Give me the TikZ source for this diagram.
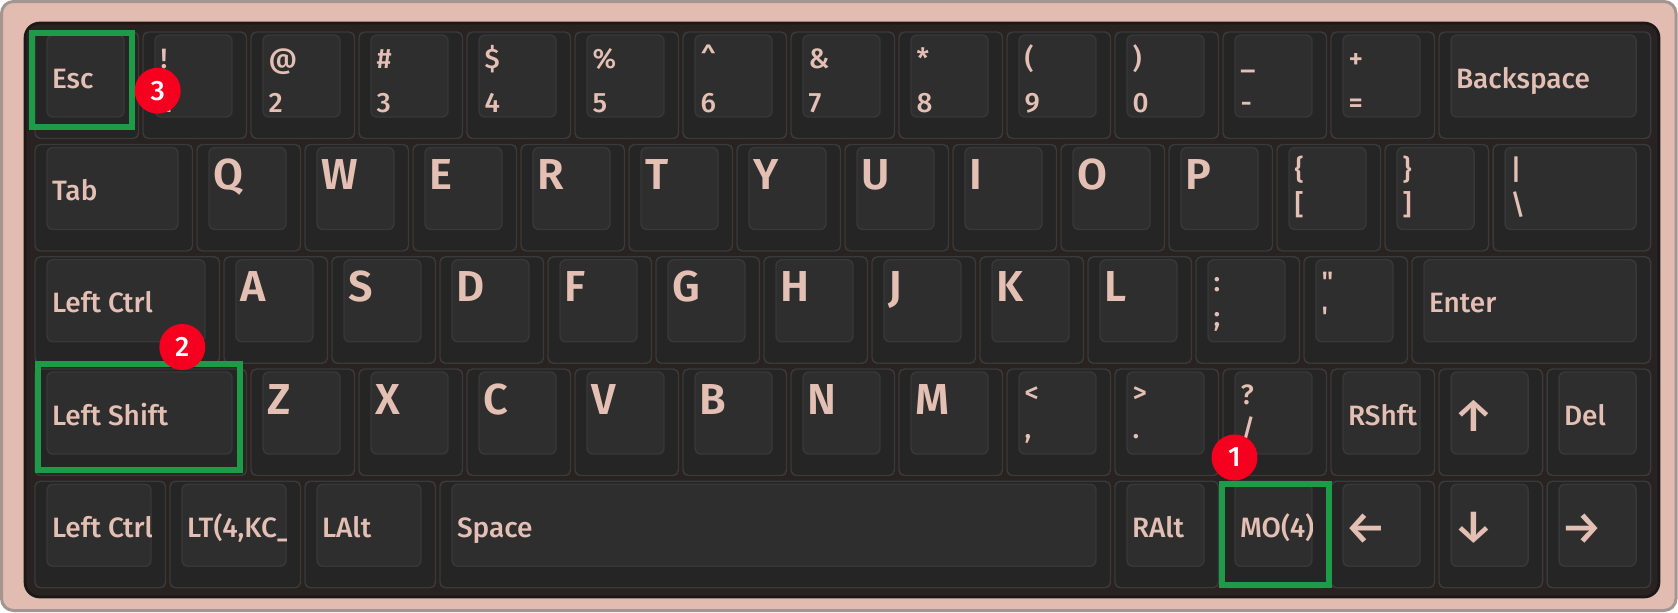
\documentclass[tikz,border=0pt]{standalone}
\usepackage{fontspec}
\setmainfont{Fira Sans}[UprightFont=* Medium, BoldFont=* SemiBold]

\definecolor{framepink}{RGB}{226,188,177}
\definecolor{framegrey}{RGB}{163,150,144}
\definecolor{platecol}{RGB}{40,34,32}
\definecolor{plateedge}{RGB}{28,24,23}
\definecolor{basecol}{RGB}{37,37,37}
\definecolor{baseedge}{RGB}{58,58,58}
\definecolor{topcol}{RGB}{46,46,46}
\definecolor{topedge}{RGB}{56,56,56}
\definecolor{legendcol}{RGB}{228,191,179}
\definecolor{hilitecol}{RGB}{30,155,72}
\definecolor{badgecol}{RGB}{245,0,30}

\tikzset{every picture/.style={line width=0.75pt}}
\tikzset{
  frame/.style={fill=framepink, draw=framegrey, line width=2.25, rounded corners=9},
  plate/.style={fill=platecol, draw=plateedge, line width=2, rounded corners=11},
  keybase/.style={fill=basecol, draw=baseedge, line width=1.1, rounded corners=4},
  keytop/.style={fill=topcol, draw=topedge, line width=1.1, rounded corners=4.5},
  legend/.style={inner sep=0pt, text=legendcol, font=\fontsize{21}{24}\selectfont},
  capletter/.style={inner sep=0pt, text=legendcol, font=\fontsize{32.5}{36}\selectfont\bfseries},
  arrowlegend/.style={inner sep=0pt, text=legendcol, font=\fontsize{34}{36}\selectfont},
  hilite/.style={draw=hilitecol, line width=4.5},
  badge/.style={circle, fill=badgecol, text=white, inner sep=0pt, minimum size=34.5pt,
    font=\fontsize{21}{21}\selectfont},
}

% one key: column (in units), row top (px), width (in units)
\newcommand{\keycap}[3]{%
  \pgfmathsetmacro{\kx}{35+108*#1}%
  \pgfmathsetmacro{\kr}{35+108*(#1+#3)-4.5}%
  \draw[keybase] (\kx,#2) rectangle (\kr,#2+106.5);
  \draw[keytop] (\kx+12,#2+3) rectangle (\kr-14.5,#2+85);
}
% name, column, row top, width, text
\newcommand{\modkey}[5]{%
  \keycap{#2}{#3}{#4}
  \begin{scope}
    \clip (\kx+12,#3+3) rectangle (\kr-14.5,#3+85);
    \node[legend, anchor=base west] (#1) at (\kx+16.5,#3+56) {#5};
  \end{scope}
}
% name, column, row top, arrow
\newcommand{\arrowkey}[4]{%
  \keycap{#2}{#3}{1}
  \node[arrowlegend] (#1) at (\kx+34.5,#3+47) {#4};
}
% name, column, row top, letter
\newcommand{\letterkey}[4]{%
  \keycap{#2}{#3}{1}
  \node[capletter, anchor=base west] (#1) at (\kx+16,#3+45) {#4};
}
% name, column, row top, width, shifted, plain, shifted baseline, plain baseline
\newcommand{\dualkey}[8]{%
  \keycap{#2}{#3}{#4}
  \node[legend, anchor=base west] (#1-s) at (\kx+17,#3+#7) {#5};
  \node[legend, anchor=base west] (#1) at (\kx+17,#3+#8) {#6};
}

\begin{document}
\begin{tikzpicture}[x=0.75pt,y=0.75pt,yscale=-1,xscale=1]
\useasboundingbox (0,0) rectangle (1678,612);

%Shape: case and plate
\draw[frame] (1.5,1.5) rectangle (1676,610.5);
\draw[plate] (25,23) rectangle (1659,597);

% Row 1
\modkey{esc}{0}{32}{1}{Esc}
\foreach \col/\shifted/\plain [count=\n] in {1/!/1, 2/@/2, 3/\#/3, 4/\$/4, 5/\%/5, 6/\textasciicircum/6,
    7/\&/7, 8/*/8, 9/(/9, 10/)/0, 11/\_/-, 12/+/=}
  {\dualkey{num\n}{\col}{32}{1}{\shifted}{\plain}{36.5}{80}}
\modkey{bksp}{13}{32}{2}{Backspace}

% Row 2
\modkey{tab}{0}{144.5}{1.5}{Tab}
\foreach \col/\ch [count=\n] in {1.5/Q, 2.5/W, 3.5/E, 4.5/R, 5.5/T, 6.5/Y, 7.5/U, 8.5/I, 9.5/O, 10.5/P}
  {\letterkey{top\n}{\col}{144.5}{\ch}}
\dualkey{lbrc}{11.5}{144.5}{1}{\{}{[}{35}{70}
\dualkey{rbrc}{12.5}{144.5}{1}{\}}{]}{35}{70}
\dualkey{bsls}{13.5}{144.5}{1.5}{|}{\textbackslash}{35}{70}

% Row 3
\modkey{lctl}{0}{256.75}{1.75}{Left Ctrl}
\foreach \col/\ch [count=\n] in {1.75/A, 2.75/S, 3.75/D, 4.75/F, 5.75/G, 6.75/H, 7.75/J, 8.75/K, 9.75/L}
  {\letterkey{home\n}{\col}{256.75}{\ch}}
\dualkey{scln}{10.75}{256.75}{1}{:}{;}{35}{70}
\dualkey{quot}{11.75}{256.75}{1}{\textquotedbl}{\textquotesingle}{35}{70}
\modkey{ent}{12.75}{256.75}{2.25}{Enter}

% Row 4
\modkey{lsft}{0}{369}{2}{Left Shift}
\foreach \col/\ch [count=\n] in {2/Z, 3/X, 4/C, 5/V, 6/B, 7/N, 8/M}
  {\letterkey{bot\n}{\col}{369}{\ch}}
\dualkey{comm}{9}{369}{1}{<}{,}{33}{69}
\dualkey{dot}{10}{369}{1}{>}{.}{33}{69}
\dualkey{slsh}{11}{369}{1}{?}{/}{35}{70}
\modkey{rsft}{12}{369}{1}{RShft}
\arrowkey{up}{13}{369}{↑}
\modkey{del}{14}{369}{1}{Del}

% Row 5
\modkey{lctl2}{0}{481.25}{1.25}{Left Ctrl}
\modkey{lt}{1.25}{481.25}{1.25}{LT(4,KC\_E}
\modkey{lalt}{2.5}{481.25}{1.25}{LAlt}
\modkey{spc}{3.75}{481.25}{6.25}{Space}
\modkey{ralt}{10}{481.25}{1}{RAlt}
\modkey{mo}{11}{481.25}{1}{MO(4)}
\arrowkey{left}{12}{481.25}{←}
\arrowkey{down}{13}{481.25}{↓}
\arrowkey{right}{14}{481.25}{→}

%Shape: highlight boxes
\draw[hilite] (31.5,32.5) rectangle (131.5,126.5);
\draw[hilite] (37.5,364) rectangle (240,469.5);
\draw[hilite] (1222,484) rectangle (1329,585);

% Badges
\node[badge] (badge1) at (1234.5,457.5) {1};
\node[badge] (badge2) at (182.3,347) {2};
\node[badge] (badge3) at (157.7,90.7) {3};

\end{tikzpicture}
\end{document}
